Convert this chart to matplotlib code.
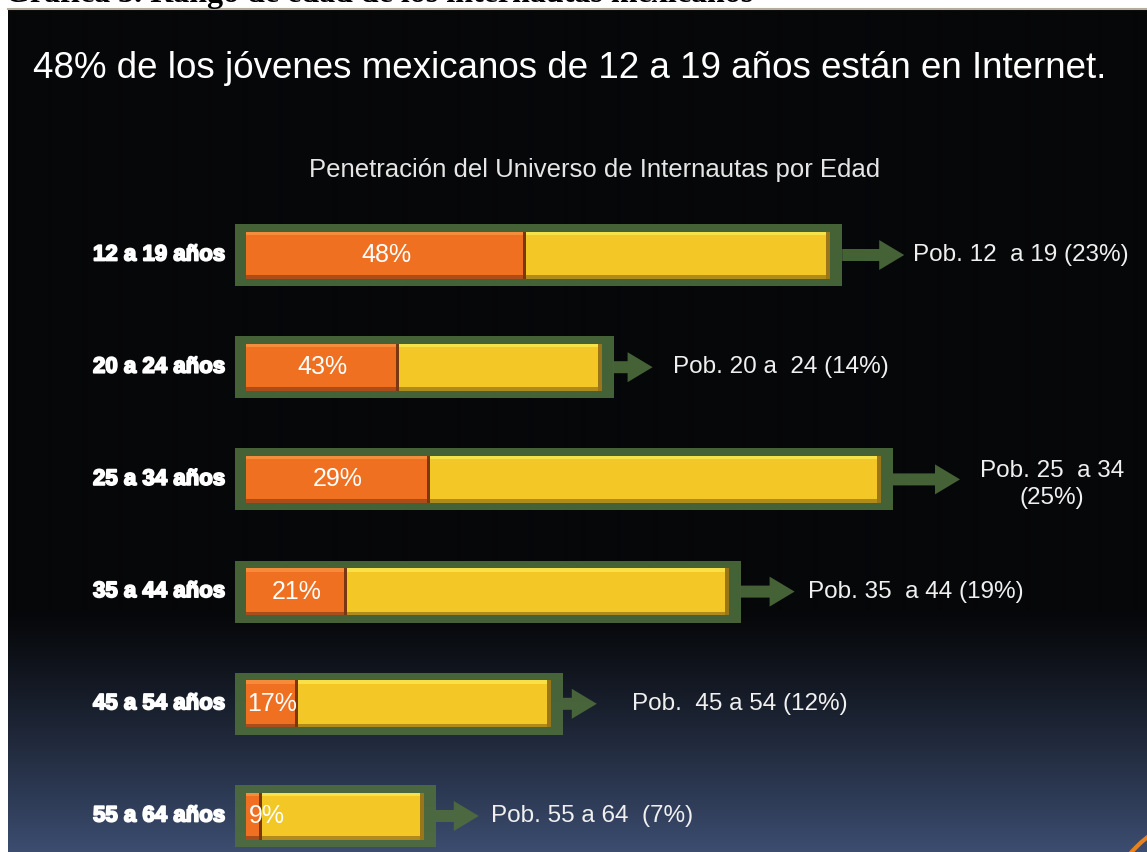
import numpy as np
import matplotlib
matplotlib.use("Agg")
import matplotlib.pyplot as plt
import matplotlib.patheffects as pe
from matplotlib.patches import FancyArrow, Circle

# data
age_groups = ["12 a 19 años", "20 a 24 años", "25 a 34 años",
              "35 a 44 años", "45 a 54 años", "55 a 64 años"]
pop_share = [23, 14, 25, 19, 12, 7]          # share of population (bar length)
internet_pct = [48, 43, 29, 21, 17, 9]       # % of each group on internet
pop_labels = ["Pob. 12  a 19 (23%)", "Pob. 20 a  24 (14%)", "Pob. 25  a 34\n(25%)",
              "Pob. 35  a 44 (19%)", "Pob.  45 a 54 (12%)", "Pob. 55 a 64  (7%)"]

title = "48% de los jóvenes mexicanos de 12 a 19 años están en Internet."
subtitle = "Penetración del Universo de Internautas por Edad"
caption = "Gráfica 3. Rango de edad de los internautas mexicanos"

# layout (pixels)
W, H = 1147, 852
PX_X = 25.4      # pixels per population point
PX_Y = 112.2     # pixels between rows
X0 = 246         # left edge of bars
Y0 = 255         # centre of first row
arrow_len_px = [62, 39, 67, 54, 34, 43]
label_gap_px = [9, 20, 92, 13, 35, 12]

orange, orange_hi, orange_lo = "#F07022", "#F58C3C", "#A94E1A"
yellow, yellow_hi, yellow_lo = "#F2C726", "#F8E04A", "#B08A1A"
green = (0.31, 0.43, 0.24)

plt.rcParams["font.family"] = ["Liberation Sans", "DejaVu Sans"]


def px_x(p):
    return p / PX_X


def px_y(p):
    return p / PX_Y


fig = plt.figure(figsize=(W / 100, H / 100), dpi=100, facecolor="white")

# background slide with dark gradient at the bottom
ax_bg = fig.add_axes([0, 0, 1, 1])
ax_bg.set_xlim(0, W)
ax_bg.set_ylim(H, 0)
ax_bg.axis("off")
ys = np.arange(10, H)
t = np.clip((ys - 610) / (H - 610), 0, 1) ** 1.15
top_c = np.array([6, 7, 9]) / 255
bot_c = np.array([60, 77, 112]) / 255
grad = top_c + t[:, None] * (bot_c - top_c)
ax_bg.imshow(grad[:, None, :], extent=(8, W, H, 10), aspect="auto", interpolation="bilinear")
ax_bg.plot([8, W], [9, 9], color="#b3ad9b", lw=1.5)
ax_bg.add_patch(Circle((1230, 940), 132, fill=False, ec="#E8821E", lw=3))

# bars
ax = fig.add_axes([0, 0, 1, 1])
ax.patch.set_alpha(0)
ax.axis("off")
ax.set_xlim(-X0 / PX_X, (W - X0) / PX_X)
ax.set_ylim((H - Y0) / PX_Y, -Y0 / PX_Y)

rows = np.arange(len(age_groups))
pop = np.array(pop_share, dtype=float)
on_w = pop * np.array(internet_pct) / 100
off_w = pop - on_w

pad_l, pad_r = px_x(11), px_x(12)
box_h = px_y(62)
bar_h = px_y(47)
bev = px_y(3.5)

ax.barh(rows, pop + pad_l + pad_r, left=-pad_l, height=box_h, color=green, alpha=0.88, lw=0)
ax.barh(rows, on_w, left=0, height=bar_h, color=orange, lw=0)
ax.barh(rows, off_w, left=on_w, height=bar_h, color=yellow, lw=0)

# bevel effect
ax.barh(rows - bar_h / 2 + bev / 2, on_w, left=0, height=bev, color=orange_hi, lw=0)
ax.barh(rows - bar_h / 2 + bev / 2, off_w, left=on_w, height=bev, color=yellow_hi, lw=0)
ax.barh(rows + bar_h / 2 - bev / 2, on_w, left=0, height=bev, color=orange_lo, lw=0)
ax.barh(rows + bar_h / 2 - bev / 2, off_w, left=on_w, height=bev, color=yellow_lo, lw=0)
ax.barh(rows, px_x(3), left=on_w - px_x(3), height=bar_h, color="#7a3812", lw=0)
ax.barh(rows, px_x(4), left=pop - px_x(4), height=bar_h, color="#9a7618", lw=0)

for i in rows:
    start = pop[i] + pad_r
    length = px_x(arrow_len_px[i])
    ax.add_patch(FancyArrow(start, i, length, 0, width=px_y(12), head_width=px_y(30),
                            head_length=px_x(25), length_includes_head=True,
                            color=green, alpha=0.88, lw=0))

    # percent inside orange part
    if on_w[i] > px_x(30):
        ax.text(on_w[i] / 2, i, f"{internet_pct[i]}%", color="white", fontsize=18,
                ha="center", va="center")
    else:
        ax.text(px_x(3), i, f"{internet_pct[i]}%", color="white", fontsize=18,
                ha="left", va="center")

    # age label
    ax.text(px_x(-21), i, age_groups[i], color="white", fontsize=16, fontweight="bold",
            ha="right", va="center",
            path_effects=[pe.withStroke(linewidth=1.3, foreground="white")])

    # population label
    tip = start + length
    if "\n" in pop_labels[i]:
        ax.text(tip + px_x(label_gap_px[i]), i + px_y(5), pop_labels[i], color="#f0f0f0",
                fontsize=17.5, ha="center", va="center", linespacing=1.25)
    else:
        ax.text(tip + px_x(label_gap_px[i]), i, pop_labels[i], color="#f0f0f0",
                fontsize=17.5, ha="left", va="center")

fig.text(33 / W, 1 - 68 / H, title, color="white", fontsize=26.5, ha="left", va="center")
fig.text(595 / W, 1 - 170 / H, subtitle, color="#e6e6e6", fontsize=18.5, ha="center", va="center")
# caption of the page, only its lower edge shows above the slide
fig.text(5 / W, 1 - 1.8 / H, caption, color="black", fontsize=23, fontweight="bold",
         family=["Liberation Serif", "DejaVu Serif"], ha="left", va="baseline")

fig.savefig("out.png", dpi=100, facecolor="white")
